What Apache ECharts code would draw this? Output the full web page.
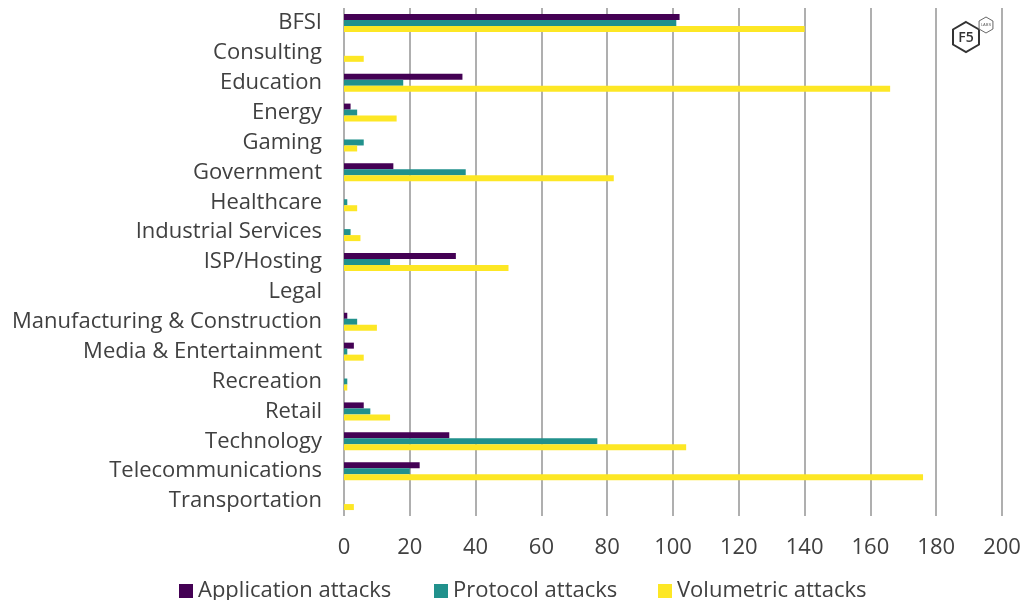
<!DOCTYPE html>
<html>
<head>
<meta charset="utf-8">
<script src="https://cdn.jsdelivr.net/npm/echarts@6/dist/echarts.min.js"></script>
<style>
  html, body { margin: 0; padding: 0; background: #fff; }
  #chart { width: 1027px; height: 600px; }
</style>
</head>
<body>
<div id="chart"></div>
<script>
const categories = [
  "BFSI", "Consulting", "Education", "Energy", "Gaming", "Government",
  "Healthcare", "Industrial Services", "ISP/Hosting", "Legal",
  "Manufacturing & Construction", "Media & Entertainment", "Recreation",
  "Retail", "Technology", "Telecommunications", "Transportation"
];
const applicationAttacks = [102, 0, 36, 2, 0, 15, 0, 0, 34, 0, 1, 3, 0, 6, 32, 23, 0];
const protocolAttacks    = [101, 0, 18, 4, 6, 37, 1, 2, 14, 0, 4, 1, 1, 8, 77, 20, 0];
const volumetricAttacks  = [140, 6, 166, 16, 4, 82, 4, 5, 50, 0, 10, 6, 1, 14, 104, 176, 3];
const seriesNames = ["Application attacks", "Protocol attacks", "Volumetric attacks"];
const seriesColors = ["#440154", "#21918c", "#fde725"];

const chart = echarts.init(document.getElementById("chart"));
const font = "'Open Sans', sans-serif";
const textColor = "#404040";

function hexPoints(cx, cy, r) {
  const pts = [];
  for (let i = 0; i < 6; i++) {
    const a = Math.PI / 180 * (60 * i - 90);
    pts.push([cx + r * Math.cos(a), cy + r * Math.sin(a)]);
  }
  return pts;
}

// one legend per item so each can sit where the original has it
const legendLeft = [174, 429, 653];
const legends = seriesNames.map((name, i) => ({
  top: 575,
  left: legendLeft[i],
  itemWidth: 14,
  itemHeight: 14,
  itemGap: 6,
  icon: "rect",
  textStyle: { fontSize: 22, color: textColor, fontFamily: font },
  data: [name]
}));

const seriesData = [applicationAttacks, protocolAttacks, volumetricAttacks];

const option = {
  animation: false,
  textStyle: { fontFamily: font },
  grid: { left: 344, right: 25, top: 8, bottom: 84 },
  legend: legends,
  xAxis: {
    type: "value",
    min: 0,
    max: 200,
    interval: 20,
    axisLine: { show: false },
    axisTick: { show: false },
    axisLabel: { fontSize: 22, color: textColor, margin: 21 },
    splitLine: { show: true, lineStyle: { color: "#959595", width: 1.5 } }
  },
  yAxis: {
    type: "category",
    data: categories,
    inverse: true,
    axisLine: { show: false },
    axisTick: { show: false },
    axisLabel: { fontSize: 22, color: textColor, margin: 22 }
  },
  series: seriesNames.map((name, i) => ({
    name: name,
    type: "bar",
    data: seriesData[i],
    barWidth: 6,
    barGap: "0%",
    itemStyle: { color: seriesColors[i] }
  })),
  graphic: [
    { type: "polygon", shape: { points: hexPoints(966, 37, 15) }, style: { fill: "#fff", stroke: "#333", lineWidth: 2 } },
    { type: "text", x: 966, y: 38, style: { text: "F5", fill: "#333", font: "600 14px 'Open Sans', sans-serif", align: "center", verticalAlign: "middle" } },
    { type: "polygon", shape: { points: hexPoints(986, 25, 8) }, style: { fill: "#fff", stroke: "#666", lineWidth: 1 } },
    { type: "text", x: 986, y: 25, style: { text: "LABS", fill: "#666", font: "4px sans-serif", align: "center", verticalAlign: "middle" } }
  ]
};
chart.setOption(option);
</script>
</body>
</html>
